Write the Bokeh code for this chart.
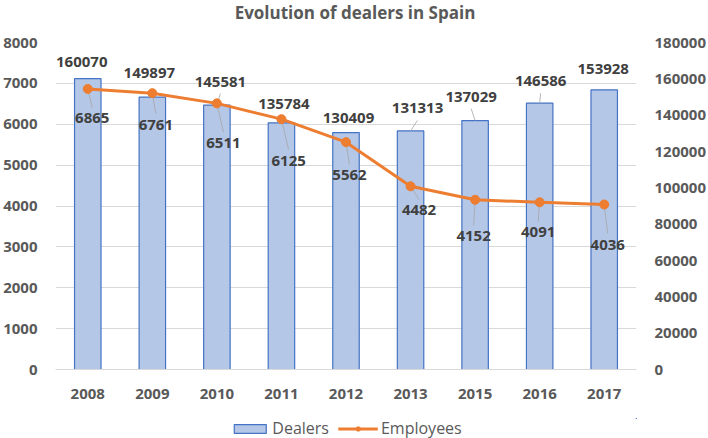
from bokeh.plotting import figure
from bokeh.layouts import column
from bokeh.models import (Range1d, LinearAxis, FixedTicker, ColumnDataSource, LabelSet, Label,
                          Legend, LegendItem, BasicTickFormatter)
from bokeh.embed import file_html
from bokeh.resources import INLINE
from bokeh.core.properties import value

# ---------------- data ----------------
years = ["2008", "2009", "2010", "2011", "2012", "2013", "2015", "2016", "2017"]
dealers = [160070, 149897, 145581, 135784, 130409, 131313, 137029, 146586, 153928]
employees = [6865, 6761, 6511, 6125, 5562, 4482, 4152, 4091, 4036]
left_ticks = [0, 1000, 2000, 3000, 4000, 5000, 6000, 7000, 8000]
right_ticks = [0, 20000, 40000, 60000, 80000, 100000, 120000, 140000, 160000, 180000]
title_text = "Evolution of dealers in Spain"
legend_labels = ["Dealers", "Employees"]

# ---------------- style (label offsets in screen px) ----------------
bar_dx = [-6, -3, 3.5, 2.5, 2.5, 7, -4, 1, -1]
bar_dy = [17, 24, 23.5, 19, 15, 22.5, 24, 22, 20.5]
bar_leader = [False, False, True, False, False, True, True, True, False]
line_dx = [4.5, 3.5, 6.5, 7.2, 3.5, 8.5, -1.5, -1.5, 3.5]
line_dy = [29.6, 31.4, 39.8, 41.4, 33.3, 24.2, 36.7, 30.2, 40]

W, HT, H, HL = 708, 26, 392, 20
BL, BR, BT, BB = 52, 71, 16, 49
FW, FH = W - BL - BR, H - BT - BB
FONT = "Open Sans"
GRAY = "#595959"
LBL = "#404040"
BAR_FILL, BAR_LINE, LINE_C = "#b4c7e7", "#4472c4", "#ed7d31"

L_MAX, R_MAX = left_ticks[-1], right_ticks[-1]
xs = list(range(len(years)))
px_x = FW / len(years)
px_l = FH / L_MAX
px_r = FH / R_MAX

src = ColumnDataSource(dict(
    x=xs, bar=dealers, emp=employees,
    bar_txt=[str(v) for v in dealers], emp_txt=[str(v) for v in employees],
    bdx=bar_dx, bdy=bar_dy, ldx=line_dx, ldy=[-d for d in line_dy],
))

# leader lines (from label edge to anchor)
bl = dict(x0=[], y0=[], x1=[], y1=[])
for i, (v, dx, dy, on) in enumerate(zip(dealers, bar_dx, bar_dy, bar_leader)):
    if on:
        bl["x0"].append(i + dx / px_x); bl["y0"].append(v + (dy - 12) / px_r)
        bl["x1"].append(i); bl["y1"].append(v)
ll = dict(x0=[], y0=[], x1=[], y1=[])
for i, (v, dx, dy) in enumerate(zip(employees, line_dx, line_dy)):
    ll["x0"].append(i + dx / px_x); ll["y0"].append(v - (dy - 11) / px_l)
    ll["x1"].append(i); ll["y1"].append(v)

# ---------------- title strip ----------------
t = figure(width=W, height=HT, x_range=Range1d(0, 1), y_range=Range1d(0, 1),
           output_backend="svg", toolbar_location=None,
           x_axis_location=None, y_axis_location=None, min_border=0)
t.outline_line_color = None
t.grid.visible = False
t.add_layout(Label(x=0.5, y=0.5, x_offset=9, y_offset=1, text=title_text,
                   text_align="center", text_baseline="middle", text_font=FONT,
                   text_font_size="17px", text_font_style="bold", text_color=GRAY))

# ---------------- main chart ----------------
p = figure(width=W, height=H,
           x_range=Range1d(-0.5, len(years) - 0.5), y_range=Range1d(0, L_MAX),
           output_backend="svg", toolbar_location=None,
           min_border_left=BL, min_border_right=BR, min_border_top=BT, min_border_bottom=BB)
p.outline_line_color = None
p.extra_y_ranges = {"right": Range1d(0, R_MAX)}

xa = p.xaxis[0]
xa.ticker = FixedTicker(ticks=xs)
xa.major_label_overrides = {i: y for i, y in enumerate(years)}
ya = p.yaxis[0]
ya.ticker = FixedTicker(ticks=left_ticks)
ra = LinearAxis(y_range_name="right", ticker=FixedTicker(ticks=right_ticks),
                formatter=BasicTickFormatter(use_scientific=False))
p.add_layout(ra, "right")
for ax in (xa, ya, ra):
    ax.major_tick_line_color = None
    ax.minor_tick_line_color = None
    ax.major_tick_out = 0
    ax.major_tick_in = 0
    ax.minor_tick_out = 0
    ax.major_label_text_font = FONT
    ax.major_label_text_font_size = "15px"
    ax.major_label_text_font_style = "bold"
    ax.major_label_text_color = GRAY
ya.axis_line_color = None
ra.axis_line_color = None
xa.axis_line_color = "#d9d9d9"
xa.major_label_standoff = 19
ya.major_label_standoff = 18
ra.major_label_standoff = 18

p.xgrid.grid_line_color = None
p.ygrid.grid_line_color = "#d9d9d9"
p.ygrid.ticker = FixedTicker(ticks=left_ticks)

bar_style = dict(width=0.41, fill_color=BAR_FILL, line_color=BAR_LINE, line_width=1.2)
line_style = dict(line_color=LINE_C, line_width=3)
dot_style = dict(size=9, fill_color=LINE_C, line_color=LINE_C)

p.vbar(x="x", top="bar", source=src, y_range_name="right", **bar_style)
p.segment(x0="x0", y0="y0", x1="x1", y1="y1", source=ColumnDataSource(bl),
          y_range_name="right", line_color="#a6a6a6", line_width=0.8)
p.segment(x0="x0", y0="y0", x1="x1", y1="y1", source=ColumnDataSource(ll),
          line_color="#a6a6a6", line_width=0.8)
p.line(x="x", y="emp", source=src, **line_style)
p.scatter(x="x", y="emp", source=src, **dot_style)

common = dict(text_align="center", text_baseline="middle", text_font=value(FONT),
              text_font_size="15px", text_font_style="bold", text_color=LBL)
p.add_layout(LabelSet(x="x", y="bar", text="bar_txt", x_offset="bdx", y_offset="bdy",
                      y_range_name="right", source=src, **common))
p.add_layout(LabelSet(x="x", y="emp", text="emp_txt", x_offset="ldx", y_offset="ldy",
                      source=src, **common))

# ---------------- legend strip ----------------
# same series drawn off-view, only so that the legend can show their swatches
q = figure(width=W, height=HL, x_range=Range1d(-20, -19), y_range=Range1d(-20, -19),
           output_backend="svg", toolbar_location=None,
           x_axis_location=None, y_axis_location=None, min_border=0)
q.outline_line_color = None
q.grid.visible = False
lb = q.vbar(x="x", top="bar", source=src, **bar_style)
ll_r = q.line(x="x", y="emp", source=src, **line_style)
ls_r = q.scatter(x="x", y="emp", source=src, **dot_style)
legend = Legend(items=[LegendItem(label=legend_labels[0], renderers=[lb]),
                       LegendItem(label=legend_labels[1], renderers=[ll_r, ls_r])],
                orientation="horizontal", location="center",
                glyph_width=40, glyph_height=11, label_standoff=3, spacing=9, label_height=14,
                label_text_font=FONT, label_text_font_size="16px", label_text_color=GRAY,
                border_line_color=None, background_fill_alpha=0, padding=0, margin=0)
q.add_layout(legend, "center")

open("out.html", "w").write(file_html(column(t, p, q, spacing=0), INLINE))
